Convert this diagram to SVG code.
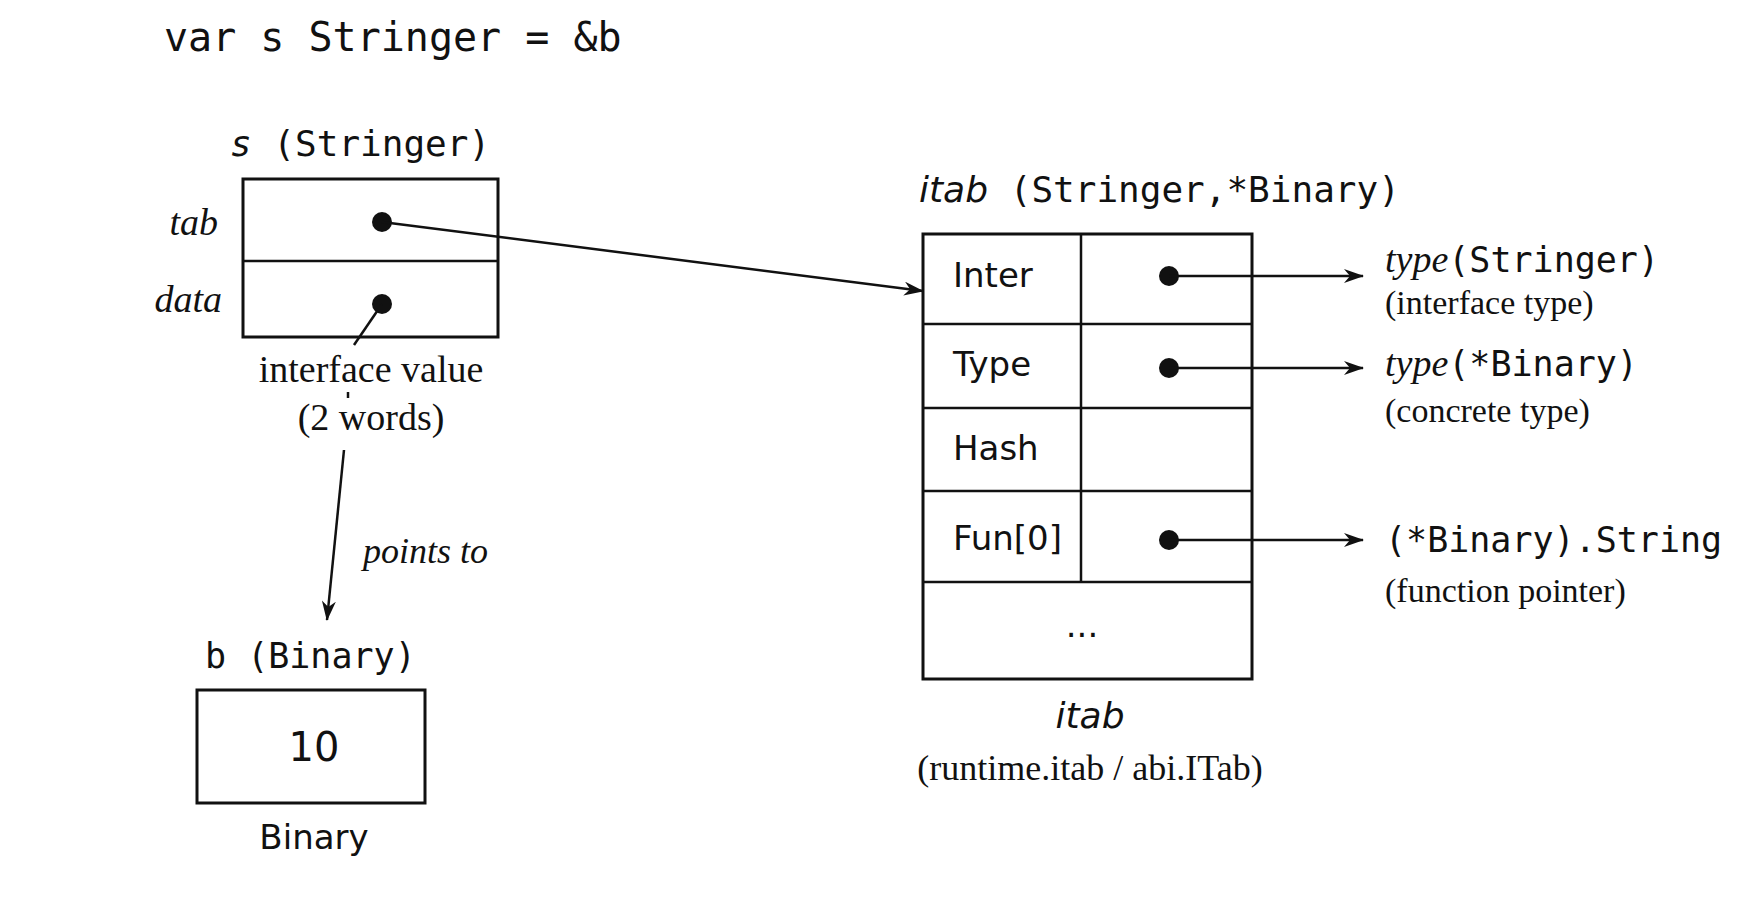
<svg xmlns="http://www.w3.org/2000/svg" width="1738" height="905" viewBox="0 0 1738 905">
<style>
.m{font-family:"DejaVu Sans Mono","Liberation Mono",monospace;fill:#111}
.s{font-family:"DejaVu Sans","Liberation Sans",sans-serif;fill:#111}
.r{font-family:"Liberation Serif","DejaVu Serif",serif;fill:#111}
.i{font-style:italic}
.b{fill:#fff;stroke:#111;stroke-width:3}
.l{stroke:#111;stroke-width:2.5;fill:none}
</style>
<defs><marker id="a" viewBox="0 0 20 14" refX="19" refY="7" markerWidth="20" markerHeight="14" markerUnits="userSpaceOnUse" orient="auto"><path d="M0,0 L20,7 L0,14 L6,7 Z" fill="#111"/></marker></defs>
<rect width="1738" height="905" fill="#fff"/>
<text class="m" x="164" y="51" font-size="40">var s Stringer = &amp;b</text>
<g id="s">
<text class="m" x="230" y="156" font-size="36"><tspan font-style="italic">s</tspan> (Stringer)</text>
<rect class="b" x="243" y="179" width="255" height="158"/>
<line class="l" x1="243" y1="261" x2="498" y2="261"/>
<text class="r i" x="218" y="235" font-size="38" text-anchor="end">tab</text>
<text class="r i" x="222" y="312" font-size="38" text-anchor="end">data</text>
<circle cx="382" cy="222" r="10" fill="#111"/>
<circle cx="382" cy="304" r="10" fill="#111"/>
<text class="r" x="371" y="382" font-size="38" text-anchor="middle">interface value</text>
<text class="r" x="371" y="430" font-size="38" text-anchor="middle">(2 words)</text>
</g>
<g id="b">
<text class="m" x="205" y="668" font-size="35">b (Binary)</text>
<rect class="b" x="197" y="690" width="228" height="113"/>
<text class="s" x="314" y="761" font-size="40" text-anchor="middle">10</text>
<text class="s" x="314" y="849" font-size="34" text-anchor="middle">Binary</text>
</g>
<g id="itab">
<text class="m" x="919" y="202" font-size="36"><tspan class="s i">itab</tspan> (Stringer,*Binary)</text>
<rect class="b" x="923" y="234" width="329" height="445"/>
<g class="l"><line x1="923" y1="324" x2="1252" y2="324"/><line x1="923" y1="408" x2="1252" y2="408"/><line x1="923" y1="491" x2="1252" y2="491"/><line x1="923" y1="582" x2="1252" y2="582"/><line x1="1081" y1="234" x2="1081" y2="582"/></g>
<g class="s" font-size="34"><text x="953" y="287">Inter</text><text x="953" y="376">Type</text><text x="953" y="460">Hash</text><text x="953" y="550">Fun[0]</text><text x="1082" y="637" text-anchor="middle">...</text></g>
<circle cx="1169" cy="276" r="10" fill="#111"/>
<circle cx="1169" cy="368" r="10" fill="#111"/>
<circle cx="1169" cy="540" r="10" fill="#111"/>
<text class="s i" x="1090" y="728" font-size="36" text-anchor="middle">itab</text>
<text class="r" x="1090" y="780" font-size="36" text-anchor="middle">(runtime.itab / abi.ITab)</text>
</g>
<g id="targets">
<text x="1385" y="272" font-size="35" class="m"><tspan class="r i" font-size="38">type</tspan>(Stringer)</text>
<text class="r" x="1385" y="314" font-size="34">(interface type)</text>
<text x="1385" y="376" font-size="35" class="m"><tspan class="r i" font-size="38">type</tspan>(*Binary)</text>
<text class="r" x="1385" y="422" font-size="34">(concrete type)</text>
<text class="m" x="1385" y="552" font-size="35">(*Binary).String</text>
<text class="r" x="1385" y="602" font-size="34">(function pointer)</text>
</g>
<g id="connectors" class="l">
<line x1="382" y1="222" x2="923" y2="291" marker-end="url(#a)"/>
<line x1="382" y1="304" x2="354" y2="345"/>
<line x1="348" y1="392" x2="348" y2="398"/>
<line x1="344" y1="450" x2="327" y2="620" marker-end="url(#a)"/>
<line x1="1169" y1="276" x2="1363" y2="276" marker-end="url(#a)"/>
<line x1="1169" y1="368" x2="1363" y2="368" marker-end="url(#a)"/>
<line x1="1169" y1="540" x2="1363" y2="540" marker-end="url(#a)"/>
</g>
<text class="r i" x="363" y="563" font-size="36">points to</text>
</svg>
